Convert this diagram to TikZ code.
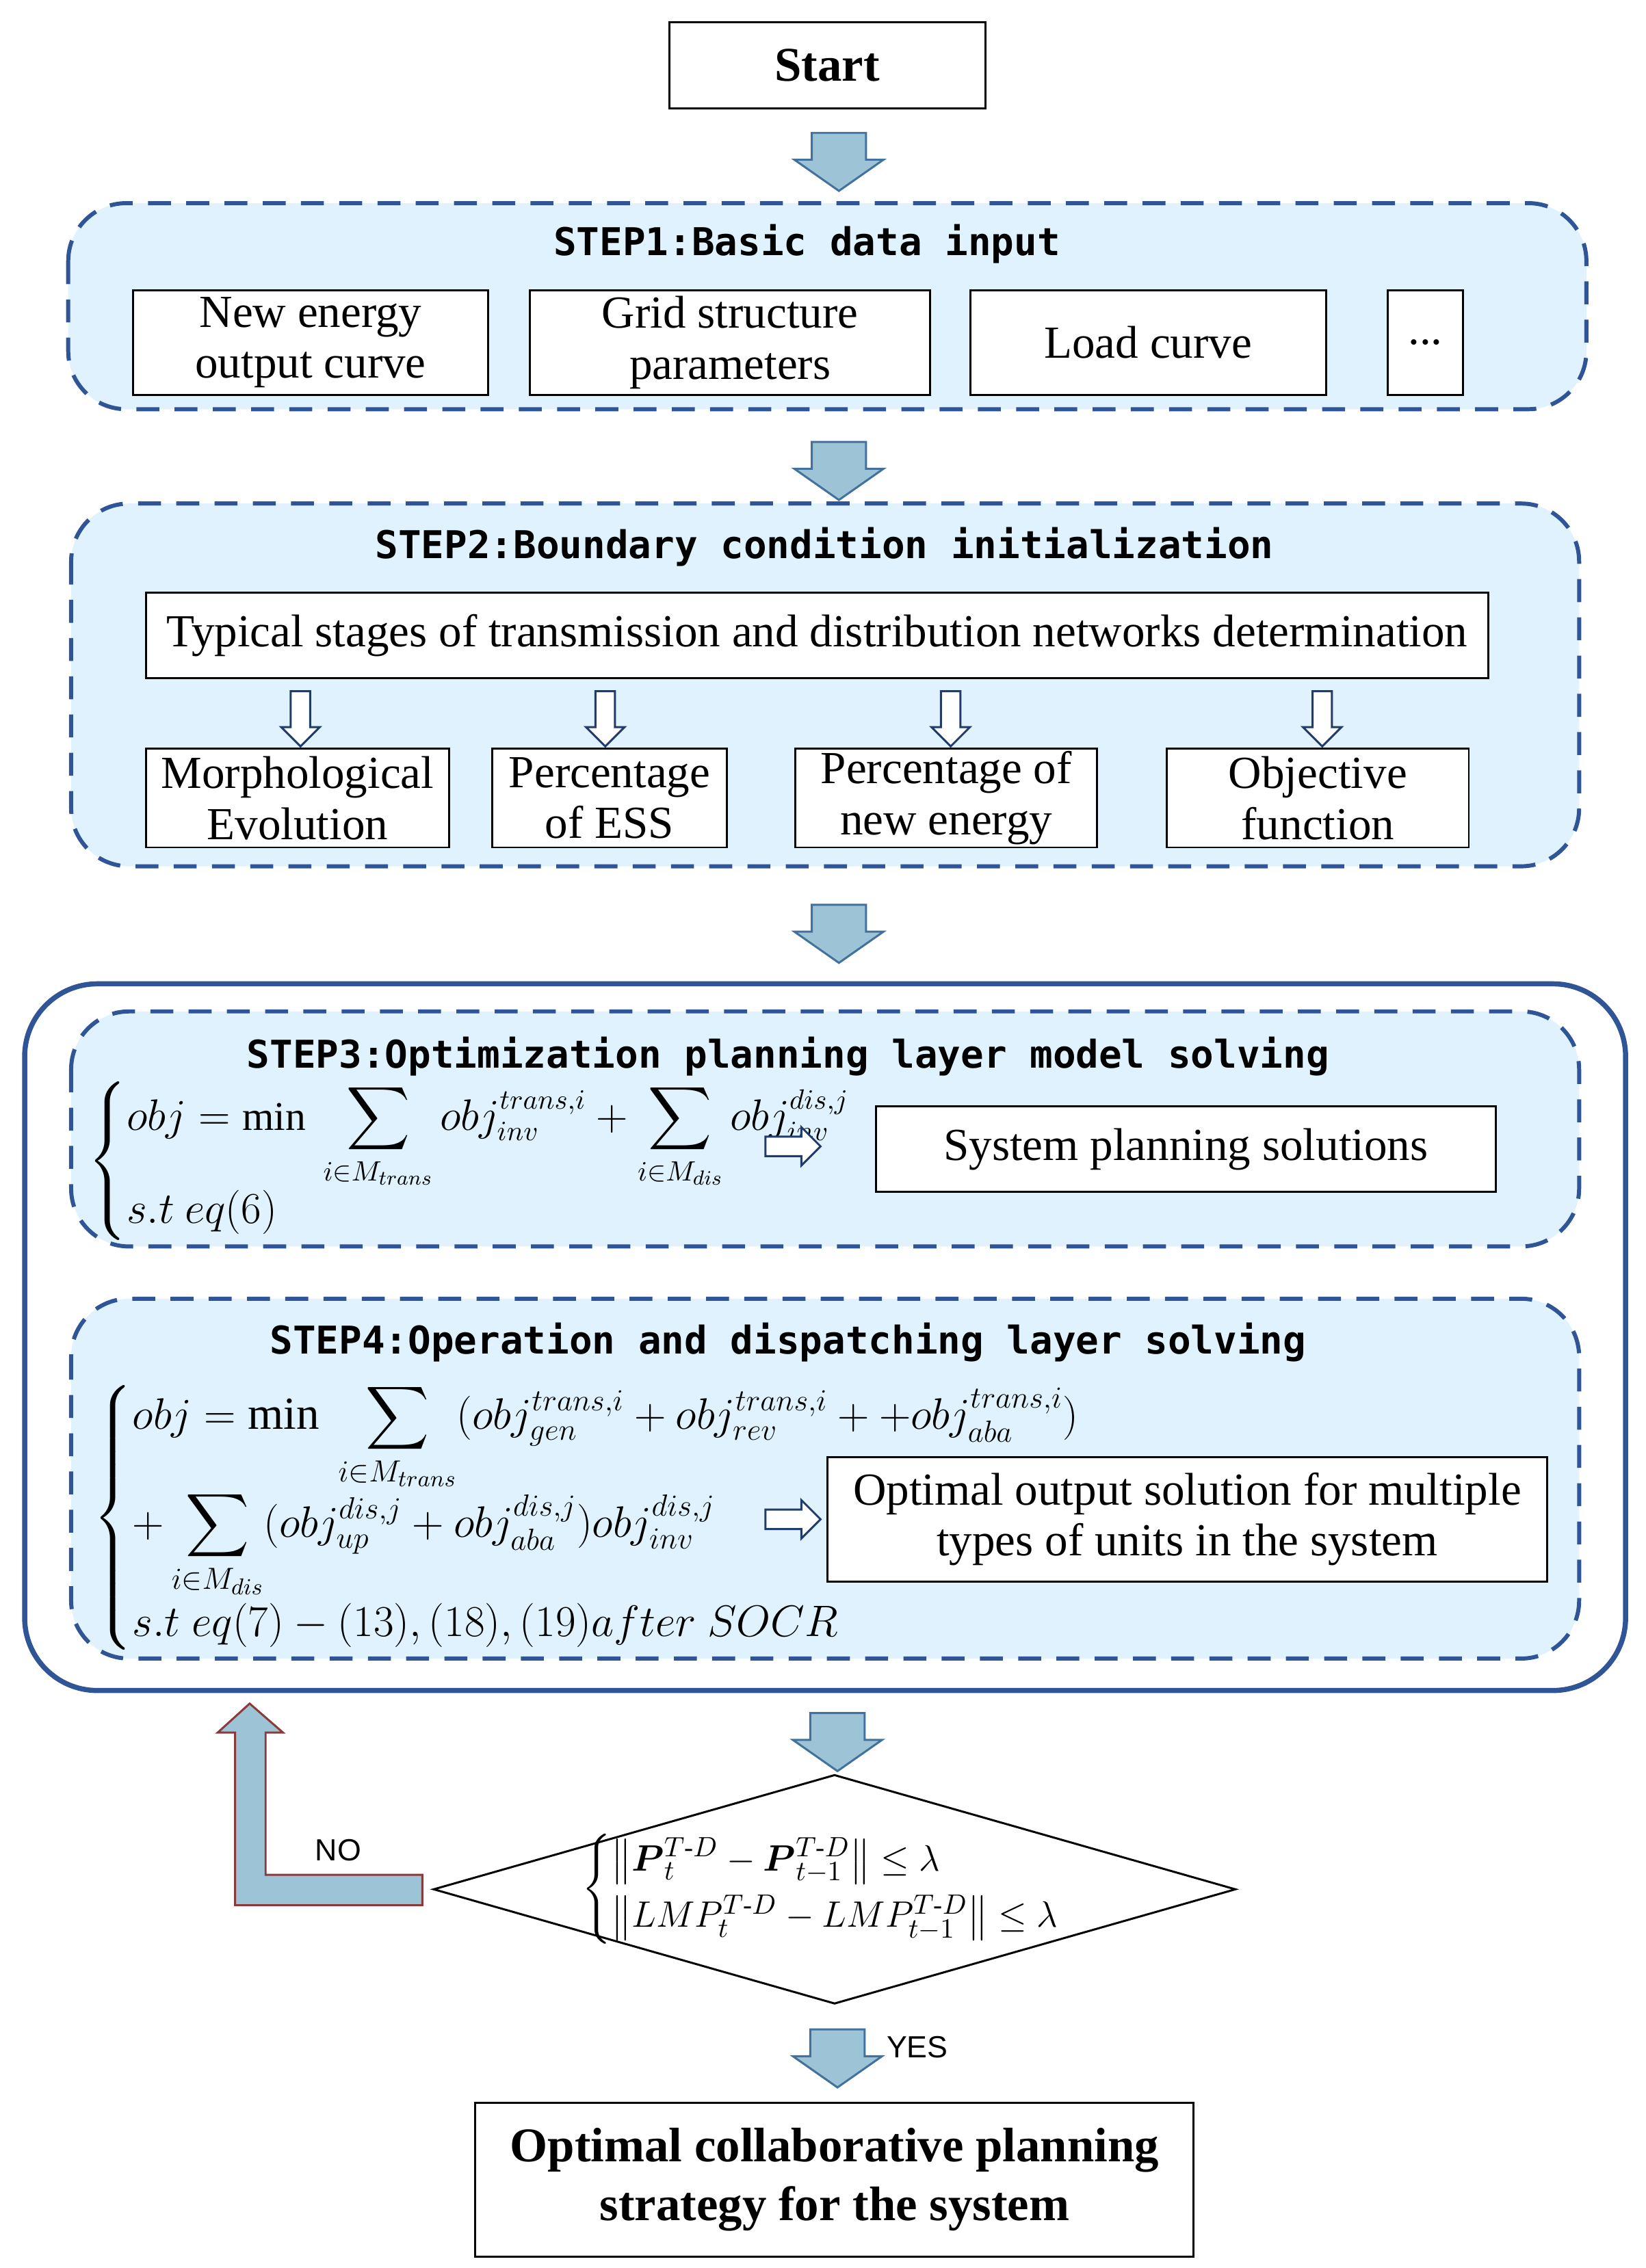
\documentclass[tikz,border=0pt]{standalone}
\usepackage{amsmath}
\usepackage{fontspec}
\setmainfont{Liberation Serif}
\newfontfamily\stepfont{DejaVu Sans Mono}
\newfontfamily\tagfont{Liberation Sans}
\usetikzlibrary{shapes.geometric, shapes.arrows}

\definecolor{panelblue}{HTML}{DFF2FD}
\definecolor{edgeblue}{HTML}{2F5597}
\definecolor{arrowblue}{HTML}{9DC3D6}
\definecolor{arrowedge}{HTML}{41719C}
\definecolor{noedge}{HTML}{8B3A3A}

\tikzset{
    box/.style={draw, thick, fill=white, align=center, inner sep=0pt,
        font=\fontsize{18}{20}\selectfont},
    stepbox/.style={draw=edgeblue, line width=1.6pt, dash pattern=on 9pt off 6pt,
        fill=panelblue, rounded corners=0.8cm},
    steptitle/.style={font=\stepfont\bfseries\fontsize{15}{17}\selectfont},
    bigarrow/.style={single arrow, draw=arrowedge, fill=arrowblue, thick,
        rotate=-90, minimum height=0.8cm, minimum width=1.2cm, single arrow tip angle=110,
        inner xsep=0pt, inner ysep=0.36cm, single arrow head extend=0.24cm},
    smallarrow/.style={single arrow, draw=edgeblue!70!black, fill=white, thick,
        minimum height=0.76cm, minimum width=0.5cm,
        inner xsep=0pt, inner ysep=0.12cm, single arrow head extend=0.13cm},
    mathbox/.style={anchor=west, inner sep=0pt, font=\fontsize{18}{21}\selectfont}
}

\begin{document}
\begin{tikzpicture}[x=0.02cm, y=-0.02cm]
\useasboundingbox (0,0) rectangle (1134,1563);

% Start and first arrow.
\node[box, minimum width=4.36cm, minimum height=1.18cm, font=\bfseries\fontsize{19}{21}\selectfont]
    (start) at (570,45) {Start};
\node[bigarrow] (a1) at (578,105) {};

% STEP1.
\draw[stepbox] (47,140) rectangle (1093,282);
\node[steptitle] (t1) at (556,168) {STEP1:Basic data input};
\node[box, minimum width=4.9cm, minimum height=1.44cm] (newenergy) at (214,236) {New energy\\output curve};
\node[box, minimum width=5.52cm, minimum height=1.44cm] (grid) at (503,236) {Grid structure\\parameters};
\node[box, minimum width=4.9cm, minimum height=1.44cm] (load) at (791,236) {Load curve};
\node[box, minimum width=1.04cm, minimum height=1.44cm] (more) at (982,236) {...};
\node[bigarrow] (a2) at (578,318) {};

% STEP2.
\draw[stepbox] (49,347) rectangle (1088,597);
\node[steptitle] (t2) at (568,377) {STEP2:Boundary condition initialization};
\node[box, minimum width=18.5cm, minimum height=1.18cm] (stages) at (563,438)
    {Typical stages of transmission and distribution networks determination};
\node[box, minimum width=4.18cm, minimum height=1.36cm] (morph) at (205,550) {Morphological\\Evolution};
\node[box, minimum width=3.24cm, minimum height=1.36cm] (ess) at (420,550) {Percentage\\of ESS};
\node[box, minimum width=4.16cm, minimum height=1.36cm] (pnew) at (652,550) {Percentage of\\new energy};
\node[box, minimum width=4.16cm, minimum height=1.36cm] (objf) at (908,550) {Objective\\function};
\foreach \x/\n in {207/morph, 417/ess, 655/pnew, 911/objf}
    \node[smallarrow, rotate=-90] (d\n) at (\x,492) {};
\node[bigarrow] (a3) at (578,637) {};

% Iteration frame.
\draw[edgeblue, line width=2pt, rounded corners=1cm] (17,678) rectangle (1120,1165);

% STEP3.
\draw[stepbox] (49,697) rectangle (1088,859);
\node[steptitle] (t3) at (543,728) {STEP3:Optimization planning layer model solving};
\node[mathbox, font=\fontsize{16}{19}\selectfont] (f3) at (60,800) {$\left\{\begin{array}{@{}l@{}}
    \displaystyle obj=\min\ \sum_{i\in M_{trans}} obj_{inv}^{trans,i}+\sum_{i\in M_{dis}} obj_{inv}^{dis,j}\\[2pt]
    s.t\ eq(6)\end{array}\right.$};
\node[smallarrow] (r3) at (543,790) {};
\node[box, minimum width=8.54cm, minimum height=1.18cm] (plan) at (817,792) {System planning solutions};

% STEP4.
\draw[stepbox] (49,895) rectangle (1088,1143);
\node[steptitle] (t4) at (543,925) {STEP4:Operation and dispatching layer solving};
\node[mathbox] (f4) at (64,1046) {$\left\{\begin{array}{@{}l@{}}
    \displaystyle obj=\min\ \sum_{i\in M_{trans}}(obj_{gen}^{trans,i}+obj_{rev}^{trans,i}++obj_{aba}^{trans,i})\\[3pt]
    \displaystyle +\sum_{i\in M_{dis}}(obj_{up}^{dis,j}+obj_{aba}^{dis,j})obj_{inv}^{dis,j}\\[3pt]
    s.t\ eq(7)-(13),(18),(19)after\ SOCR\end{array}\right.$};
\node[smallarrow] (r4) at (543,1047) {};
\node[box, minimum width=9.92cm, minimum height=1.72cm] (optout) at (818,1047)
    {Optimal output solution for multiple\\types of units in the system};
\node[bigarrow] (a4) at (577,1194) {};

% Convergence check.
\node[draw, thick, diamond, minimum width=11.06cm, minimum height=3.16cm, inner sep=0pt]
    (check) at (575,1302) {};
\node[mathbox, anchor=center, font=\fontsize{15}{18}\selectfont] (cond) at (566,1302) {$\left\{\begin{array}{@{}l@{}}
    \left\|\boldsymbol{P}_t^{T\text{-}D}-\boldsymbol{P}_{t-1}^{T\text{-}D}\right\|\le\lambda\\[4pt]
    \left\|LMP_t^{T\text{-}D}-LMP_{t-1}^{T\text{-}D}\right\|\le\lambda\end{array}\right.$};

% Return path.
\draw[fill=arrowblue, draw=noedge, thick]
    (291,1292) -- (183,1292) -- (183,1194) -- (195,1194) -- (172,1174)
    -- (150,1194) -- (162,1194) -- (162,1313) -- (291,1313) -- cycle;
\node[font=\tagfont\fontsize{12}{14}\selectfont] (no) at (233,1275) {NO};

% Result.
\node[bigarrow] (a5) at (577,1412) {};
\node[font=\tagfont\fontsize{12}{14}\selectfont] (yes) at (632,1411) {YES};
\node[box, minimum width=9.9cm, minimum height=2.12cm, font=\bfseries\fontsize{19}{23}\selectfont]
    (result) at (575,1502) {Optimal collaborative planning\\strategy for the system};
\end{tikzpicture}
\end{document}
